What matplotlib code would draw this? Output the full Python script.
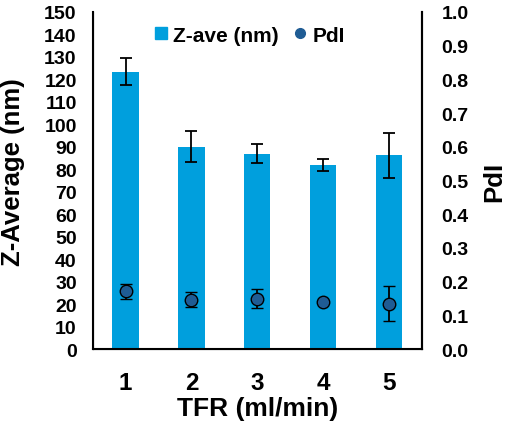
import matplotlib
matplotlib.use("Agg")
import matplotlib.pyplot as plt
from matplotlib.lines import Line2D
import numpy as np

categories = ["1", "2", "3", "4", "5"]
z_ave = [123.3, 90.1, 86.8, 81.8, 86.2]
z_err = [6.0, 6.8, 4.2, 2.8, 10.1]
pdi = [0.172, 0.147, 0.150, 0.141, 0.135]
pdi_err = [0.022, 0.022, 0.027, 0.004, 0.051]
left_ticks = list(range(0, 151, 10))
right_ticks = [i / 10 for i in range(0, 11)]

bar_color = "#009FDD"
pt_color = "#1F5C94"

plt.rcParams['font.family'] = ['Liberation Sans', 'DejaVu Sans']
plt.rcParams['font.weight'] = 'bold'

fig = plt.figure(figsize=(5.12, 4.27), dpi=100)
ax = fig.add_axes([0.181, 0.180, 0.643, 0.790])
x = np.arange(len(categories))
ax.bar(x, z_ave, width=0.4, color=bar_color, yerr=z_err,
       error_kw=dict(ecolor='black', elinewidth=1.3, capsize=4.5, capthick=1.3), zorder=2)
ax.set_xlim(-0.5, len(categories) - 0.5)
ax.set_ylim(0, 150)
ax.set_yticks(left_ticks)
ax.set_xticks(x)
ax.set_xticklabels(categories, fontsize=17.5, fontweight='bold')
ax.tick_params(axis='y', length=0, labelsize=14, pad=11.5)
ax.tick_params(axis='x', length=0, pad=16)
for lab in ax.get_yticklabels():
    lab.set_fontweight('bold')
ax.spines['top'].set_visible(False)
for s in ['left', 'bottom', 'right']:
    ax.spines[s].set_linewidth(1.5)
ax.set_ylabel("Z-Average (nm)", fontsize=18.5, fontweight='bold')
ax.yaxis.set_label_coords(-0.205, 0.528)
ax.set_xlabel("TFR (ml/min)", fontsize=19, fontweight='bold', labelpad=1.5)

ax2 = ax.twinx()
ax2.errorbar(x, pdi, yerr=pdi_err, fmt='o', color=pt_color, markersize=9,
             markeredgecolor='black', markeredgewidth=1.0, ecolor='black',
             elinewidth=1.3, capsize=4.5, capthick=1.3, zorder=3)
ax2.set_ylim(0, 1.0)
ax2.set_yticks(right_ticks)
ax2.set_yticklabels([f"{t:.1f}" for t in right_ticks], fontsize=14, fontweight='bold')
ax2.tick_params(axis='y', length=0, pad=14)
ax2.spines['top'].set_visible(False)
ax2.spines['right'].set_linewidth(1.5)
ax2.set_ylabel("PdI", fontsize=18.5, fontweight='bold', labelpad=10)

handles = [Line2D([], [], marker='s', color=bar_color, linestyle='none', markersize=9),
           Line2D([], [], marker='o', color=pt_color, linestyle='none', markersize=7)]
ax2.legend(handles, ["Z-ave (nm)", "PdI"], loc='upper center', bbox_to_anchor=(0.47, 1.015),
           ncol=2, frameon=False, prop={'size': 15, 'weight': 'bold'},
           handletextpad=0.1, columnspacing=0.5, handlelength=1.0)

fig.savefig("out.png", dpi=100)
